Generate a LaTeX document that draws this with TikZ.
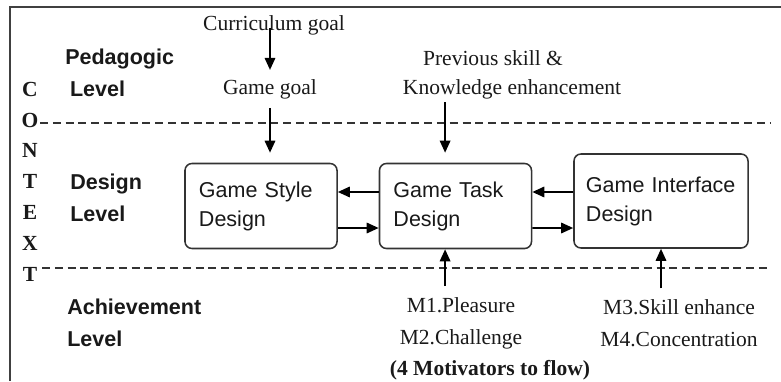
\documentclass[tikz,border=0pt]{standalone}
\usepackage{fontspec}
\setmainfont{Liberation Serif}
\setsansfont{Liberation Sans}
\usetikzlibrary{arrows.meta,positioning,calc}

\begin{document}
\begin{tikzpicture}[
    x=0.025cm, y=-0.025cm,
    every node/.style={font=\fontsize{15.3}{22.8}\selectfont, text=black!90, inner sep=0pt},
    levellabel/.style={
      font=\fontsize{15.3}{22.8}\selectfont\sffamily\bfseries, anchor=west, align=left
    },
    designbox/.style={
      rectangle, rounded corners=5pt, draw=black!80, line width=1.1pt,
      minimum height=2.125cm, inner xsep=0.35cm, align=left,
      font=\fontsize{15.3}{20.6}\selectfont\sffamily
    },
    flowarr/.style={-{Triangle[length=0.3cm, width=0.26cm]}, line width=1.4pt, black},
    levelsep/.style={dash pattern=on 0.2cm off 0.12cm, line width=0.8pt, black!80}
  ]
    \useasboundingbox (0,0) rectangle (781,381);

    % frame (cut off at the right and bottom)
    \draw[line width=1.4pt, black!75] (10,381) -- (10,7) -- (781,7);

    % level separators
    \draw[levelsep] (40,123) -- (771,123);
    \draw[levelsep] (42,268) -- (771,268);

    % side and level labels
    \node[font=\fontsize{15.3}{21.9}\selectfont\bfseries, align=center] (ctx) at (30,181.5)
      {C\\O\\N\\T\\E\\X\\T};
    \node[levellabel] (ped) at (65,73) {Pedagogic\\\hspace*{0.12cm}Level};
    \node[levellabel] (des) at (70,197.5) {Design\\Level};
    \node[levellabel] (ach) at (67,323) {Achievement\\Level};

    % design boxes
    \node[designbox, text width=3.1cm] (style) at (261,206) {Game Style\\Design};
    \node[designbox, text width=3.1cm] (task) at (455.5,206) {Game Task\\Design};
    \node[designbox, text width=3.75cm, inner xsep=0.3cm, minimum height=2.35cm] (iface) at (661,201)
      {Game Interface\\Design};

    % pedagogic inputs
    \node (curr) at (274,25) {Curriculum goal};
    \node (goal) at (270,89) {Game goal};
    \node (prev) at (493,58) {Previous skill \&};
    \node (know) at (512,89) {Knowledge enhancement};

    % motivators
    \node[align=center] (mot12) at (461,323) {M1.Pleasure\\M2.Challenge};
    \node[align=center] (mot34) at (679,323) {M3.Skill enhance\\M4.Concentration};
    \node[font=\fontsize{15.3}{22.8}\selectfont\bfseries] (motiv) at (490,370) {(4 Motivators to flow)};

    \coordinate (tin) at ([xshift=-0.26cm]task.north);
    \coordinate (tout) at ([xshift=-0.26cm]task.south);

    % vertical flow
    \draw[flowarr, shorten >=0.225cm] ([yshift=-0.08cm]goal.north |- curr.center) -- (goal.north);
    \draw[flowarr, shorten <=0.22cm, shorten >=0.25cm] (goal.south) -- (goal.south |- style.north);
    \draw[flowarr, shorten <=0.08cm, shorten >=0.25cm] (tin |- know.south) -- (tin);
    \draw[flowarr, shorten <=0.27cm] (tout |- mot12.north) -- (tout);
    \draw[flowarr, shorten <=0.27cm] (iface.south |- mot34.north) -- (iface.south);

    % between the boxes
    \draw[flowarr] ([yshift=0.35cm]task.west) -- ([yshift=0.35cm]style.east);
    \draw[flowarr] ([yshift=-0.55cm]style.east) -- ([yshift=-0.55cm]task.west);
    \draw[flowarr] ([yshift=0.225cm]iface.west) -- ([yshift=0.35cm]task.east);
    \draw[flowarr] ([yshift=-0.55cm]task.east) -- ([yshift=-0.675cm]iface.west);

  \end{tikzpicture}
\end{document}
